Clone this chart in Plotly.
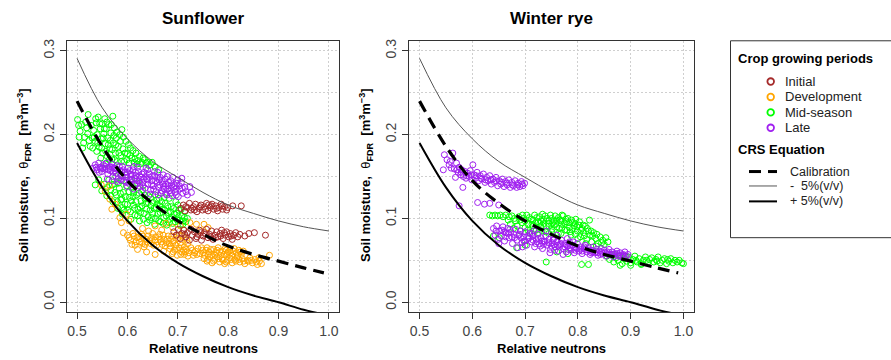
import plotly.graph_objects as go

W, H = 891, 360

# ---------------- data ----------------
N_CURVE = [0.50, 0.55, 0.60, 0.65, 0.70, 0.75, 0.80, 0.85, 0.90, 0.95, 1.00]
N_CAL = [0.50, 0.55, 0.60, 0.65, 0.70, 0.75, 0.80, 0.85, 0.90, 0.95, 0.99]
CAL = [0.240, 0.186, 0.145, 0.118, 0.097, 0.081, 0.067, 0.057, 0.049, 0.041, 0.035]
MINUS5 = [0.291, 0.232, 0.195, 0.168, 0.149, 0.131, 0.116, 0.106, 0.097, 0.090, 0.085]
PLUS5 = [0.190, 0.137, 0.097, 0.068, 0.047, 0.031, 0.018, 0.008, 0.000, -0.009, -0.016]

X_TICKS = [0.5, 0.6, 0.7, 0.8, 0.9, 1.0]
X_TICK_TEXT = ["0.5", "0.6", "0.7", "0.8", "0.9", "1.0"]
Y_TICKS = [0.0, 0.1, 0.2, 0.3]
Y_TICK_TEXT = ["0.0", "0.1", "0.2", "0.3"]

PANELS = ["Sunflower", "Winter rye"]
PERIODS = ["Initial", "Development", "Mid-season", "Late"]
PERIOD_COLORS = ["#A52A2A", "#FFA500", "#00FF00", "#A020F0"]

SF_INITIAL = [
    (0.706,0.112),(0.711,0.116),(0.714,0.109),(0.719,0.113),(0.723,0.118),(0.726,0.110),(0.731,0.114),
    (0.735,0.117),(0.738,0.108),(0.742,0.112),(0.746,0.116),(0.749,0.110),(0.753,0.114),(0.757,0.118),
    (0.760,0.109),(0.764,0.113),(0.768,0.117),(0.771,0.111),(0.775,0.115),(0.779,0.109),(0.782,0.113),
    (0.786,0.117),(0.789,0.111),(0.793,0.114),(0.716,0.114),(0.729,0.112),(0.744,0.114),(0.755,0.111),
    (0.766,0.115),(0.777,0.112),(0.788,0.115),(0.733,0.110),(0.761,0.116),(0.797,0.110),(0.799,0.113),
    (0.809,0.115),(0.826,0.115),
    (0.692,0.084),(0.697,0.080),(0.701,0.087),(0.705,0.076),(0.708,0.082),(0.712,0.086),(0.716,0.078),
    (0.719,0.083),(0.723,0.074),(0.726,0.087),(0.729,0.080),(0.733,0.084),(0.736,0.076),(0.740,0.081),
    (0.743,0.086),(0.747,0.074),(0.750,0.079),(0.753,0.083),(0.757,0.087),(0.760,0.077),(0.763,0.081),
    (0.767,0.085),(0.770,0.075),(0.773,0.080),(0.777,0.084),(0.780,0.078),(0.784,0.082),(0.787,0.086),
    (0.790,0.076),(0.794,0.080),(0.797,0.084),(0.801,0.078),(0.804,0.082),(0.808,0.075),(0.811,0.080),
    (0.815,0.083),(0.819,0.078),(0.823,0.081),(0.714,0.081),(0.738,0.078),(0.755,0.081),(0.775,0.077),
    (0.792,0.083),(0.806,0.079),(0.745,0.083),(0.765,0.078),(0.785,0.079),(0.833,0.079),(0.841,0.082),
    (0.852,0.083),(0.874,0.080),
]

SF_DEVELOPMENT = [
    (0.548,0.140),(0.556,0.132),(0.565,0.139),(0.565,0.123),(0.569,0.111),(0.576,0.117),(0.585,0.101),
    (0.598,0.105),(0.603,0.097),(0.592,0.083),(0.588,0.095),
    (0.600,0.080),(0.606,0.074),(0.611,0.082),(0.615,0.068),(0.619,0.077),(0.624,0.072),(0.628,0.081),
    (0.633,0.066),(0.637,0.075),(0.641,0.079),(0.646,0.070),(0.650,0.082),(0.654,0.074),(0.658,0.068),
    (0.662,0.078),(0.667,0.072),(0.671,0.080),(0.675,0.067),(0.679,0.075),(0.683,0.070),(0.688,0.079),
    (0.692,0.073),(0.696,0.068),(0.700,0.076),(0.705,0.071),(0.709,0.079),(0.713,0.066),(0.718,0.074),
    (0.622,0.078),(0.644,0.074),(0.665,0.075),(0.686,0.075),(0.703,0.080),(0.630,0.070),(0.656,0.078),
    (0.677,0.071),
    (0.603,0.077),(0.609,0.069),(0.613,0.079),(0.617,0.072),(0.626,0.076),(0.631,0.079),(0.635,0.069),
    (0.639,0.072),(0.648,0.077),(0.652,0.068),(0.660,0.072),(0.664,0.081),(0.669,0.069),(0.673,0.075),
    (0.681,0.079),(0.685,0.067),(0.690,0.071),(0.698,0.080),(0.707,0.068),(0.715,0.077),(0.720,0.070),
    (0.630,0.088),(0.642,0.085),(0.655,0.091),(0.668,0.086),(0.676,0.094),(0.690,0.089),(0.705,0.091),
    (0.712,0.086),(0.724,0.095),(0.737,0.093),(0.745,0.085),(0.752,0.093),(0.760,0.089),
    (0.620,0.063),(0.638,0.060),(0.655,0.057),(0.672,0.061),
    (0.684,0.064),(0.689,0.058),(0.694,0.062),(0.699,0.056),(0.703,0.065),(0.708,0.060),(0.713,0.057),
    (0.717,0.063),(0.722,0.059),(0.726,0.065),(0.731,0.056),(0.735,0.061),(0.740,0.064),(0.744,0.058),
    (0.749,0.062),(0.753,0.056),(0.758,0.065),(0.762,0.060),(0.767,0.057),(0.771,0.063),(0.776,0.059),
    (0.780,0.065),(0.785,0.056),(0.789,0.061),(0.794,0.064),(0.798,0.058),(0.803,0.062),(0.807,0.056),
    (0.812,0.064),(0.816,0.059),(0.821,0.062),(0.826,0.057),(0.830,0.061),(0.711,0.062),(0.733,0.059),
    (0.756,0.062),(0.778,0.062),(0.800,0.060),
    (0.691,0.060),(0.697,0.064),(0.706,0.057),(0.715,0.060),(0.720,0.055),(0.729,0.062),(0.738,0.057),
    (0.747,0.065),(0.751,0.059),(0.760,0.057),(0.765,0.063),(0.774,0.056),(0.783,0.060),(0.792,0.057),
    (0.796,0.062),(0.805,0.059),(0.810,0.061),(0.819,0.056),(0.824,0.060),
    (0.752,0.052),(0.758,0.049),(0.763,0.054),(0.768,0.047),(0.773,0.051),(0.778,0.054),(0.783,0.048),
    (0.788,0.052),(0.793,0.046),(0.798,0.050),(0.803,0.053),(0.808,0.047),(0.813,0.051),(0.818,0.054),
    (0.823,0.048),(0.828,0.052),(0.833,0.046),(0.838,0.050),(0.843,0.053),(0.848,0.047),(0.853,0.051),
    (0.858,0.045),(0.862,0.049),(0.866,0.046),(0.790,0.050),(0.815,0.049),(0.840,0.049),(0.882,0.056),
    (0.760,0.051),(0.771,0.049),(0.781,0.052),(0.796,0.048),(0.806,0.051),(0.821,0.051),(0.831,0.049),
    (0.846,0.050),(0.856,0.048),(0.861,0.053),
]

SF_MID = [
    (0.501,0.218),(0.503,0.211),(0.506,0.204),(0.511,0.184),(0.515,0.197),(0.519,0.208),(0.522,0.224),
    (0.526,0.186),(0.530,0.196),(0.533,0.205),(0.536,0.192),(0.538,0.214),(0.540,0.200),(0.542,0.221),
    (0.544,0.185),(0.546,0.207),(0.548,0.195),(0.550,0.213),(0.551,0.178),(0.553,0.201),(0.555,0.219),
    (0.556,0.189),(0.558,0.207),(0.560,0.174),(0.561,0.196),(0.563,0.212),(0.565,0.183),(0.567,0.202),
    (0.569,0.171),(0.571,0.222),(0.572,0.190),(0.574,0.208),(0.576,0.178),(0.578,0.196),(0.580,0.168),
    (0.582,0.186),(0.585,0.200),(0.587,0.175),(0.589,0.206),(0.591,0.183),(0.594,0.168),(0.597,0.192),
    (0.600,0.177),(0.603,0.166),(0.606,0.184),(0.609,0.172),(0.613,0.167),(0.617,0.178),(0.621,0.169),
    (0.626,0.165),(0.631,0.172),(0.637,0.166),(0.643,0.163),(0.649,0.167),(0.655,0.161),(0.662,0.158),
    (0.547,0.172),(0.539,0.180),(0.557,0.165),
    (0.504,0.197),(0.509,0.212),(0.513,0.190),(0.517,0.215),(0.521,0.201),(0.524,0.193),(0.528,0.211),
    (0.531,0.184),(0.534,0.197),(0.537,0.219),(0.541,0.190),(0.545,0.213),(0.549,0.184),(0.552,0.196),
    (0.554,0.207),(0.557,0.180),(0.559,0.215),(0.562,0.188),(0.564,0.170),(0.566,0.193),(0.568,0.212),
    (0.570,0.182),(0.573,0.199),(0.575,0.170),(0.577,0.188),(0.579,0.203),(0.583,0.178),(0.586,0.192),
    (0.588,0.168),(0.592,0.197),(0.595,0.178),(0.599,0.170),(0.602,0.188),(0.605,0.175),(0.611,0.181),
    (0.615,0.171),(0.619,0.165),(0.624,0.174),(0.629,0.167),(0.634,0.170),(0.640,0.167),(0.646,0.164),
    (0.536,0.140),(0.543,0.146),(0.549,0.133),(0.554,0.141),(0.559,0.127),(0.563,0.146),(0.567,0.134),
    (0.571,0.120),(0.574,0.141),(0.578,0.128),(0.581,0.112),(0.584,0.136),(0.587,0.122),(0.590,0.105),
    (0.592,0.131),(0.595,0.117),(0.598,0.139),(0.601,0.110),(0.604,0.125),(0.607,0.099),(0.609,0.136),
    (0.612,0.116),(0.615,0.104),(0.618,0.128),(0.621,0.111),(0.624,0.097),(0.627,0.121),(0.630,0.134),
    (0.633,0.106),(0.636,0.118),(0.639,0.095),(0.642,0.127),(0.645,0.110),(0.648,0.101),(0.651,0.119),
    (0.654,0.093),(0.657,0.113),(0.660,0.105),(0.663,0.124),(0.666,0.096),(0.669,0.111),(0.672,0.101),
    (0.675,0.118),(0.678,0.092),(0.681,0.107),(0.684,0.099),(0.687,0.114),(0.690,0.094),(0.693,0.105),
    (0.696,0.120),(0.699,0.098),(0.702,0.110),(0.705,0.092),(0.708,0.103),(0.711,0.097),(0.714,0.108),
    (0.597,0.152),(0.606,0.146),(0.620,0.142),(0.577,0.150),(0.588,0.145),(0.612,0.131),(0.634,0.128),
    (0.655,0.128),(0.589,0.113),(0.625,0.113),(0.641,0.102),(0.664,0.115),(0.683,0.124),(0.700,0.116),
    (0.719,0.100),
    (0.560,0.137),(0.566,0.127),(0.570,0.140),(0.575,0.131),(0.580,0.120),(0.582,0.142),(0.586,0.130),
    (0.589,0.123),(0.593,0.110),(0.596,0.126),(0.600,0.117),(0.603,0.132),(0.606,0.108),(0.608,0.121),
    (0.611,0.126),(0.614,0.112),(0.617,0.120),(0.620,0.103),(0.623,0.130),(0.626,0.107),(0.629,0.115),
    (0.632,0.099),(0.635,0.123),(0.638,0.111),(0.641,0.119),(0.644,0.098),(0.647,0.115),(0.650,0.106),
    (0.653,0.112),(0.656,0.100),(0.659,0.117),(0.662,0.097),(0.665,0.107),(0.668,0.120),(0.671,0.094),
    (0.674,0.110),(0.677,0.103),(0.680,0.115),(0.683,0.095),(0.686,0.108),(0.689,0.101),(0.692,0.112),
    (0.695,0.096),(0.698,0.106),(0.701,0.102),(0.704,0.098),(0.707,0.111),(0.710,0.093),(0.713,0.101),
    (0.716,0.096),(0.658,0.122),(0.646,0.125),(0.673,0.125),
]

SF_LATE = [
    (0.532,0.160),(0.536,0.164),(0.540,0.158),(0.543,0.166),(0.546,0.161),(0.549,0.156),(0.552,0.164),
    (0.555,0.159),(0.558,0.166),(0.561,0.153),(0.563,0.161),(0.566,0.157),(0.569,0.165),(0.571,0.150),
    (0.574,0.160),(0.577,0.154),(0.579,0.163),(0.582,0.147),(0.585,0.157),(0.587,0.151),(0.590,0.162),
    (0.593,0.145),(0.595,0.155),(0.598,0.149),(0.601,0.160),(0.603,0.142),(0.606,0.153),(0.609,0.147),
    (0.611,0.158),(0.614,0.140),(0.617,0.151),(0.619,0.145),(0.622,0.156),(0.625,0.138),(0.627,0.149),
    (0.630,0.143),(0.633,0.155),(0.635,0.136),(0.638,0.147),(0.641,0.141),(0.643,0.153),(0.646,0.134),
    (0.649,0.145),(0.651,0.139),(0.654,0.151),(0.657,0.132),(0.659,0.143),(0.662,0.137),(0.665,0.149),
    (0.667,0.130),(0.670,0.141),(0.673,0.135),(0.675,0.147),(0.678,0.128),(0.681,0.139),(0.683,0.133),
    (0.686,0.145),(0.689,0.127),(0.692,0.137),(0.695,0.131),(0.698,0.142),(0.701,0.126),(0.704,0.135),
    (0.707,0.143),(0.710,0.130),(0.714,0.137),(0.719,0.128),(0.727,0.131),
    (0.551,0.160),(0.565,0.162),(0.575,0.157),(0.588,0.156),(0.597,0.152),(0.607,0.150),(0.615,0.148),
    (0.624,0.151),(0.632,0.147),(0.640,0.146),(0.648,0.140),(0.656,0.145),(0.664,0.140),(0.672,0.138),
    (0.680,0.135),(0.688,0.140),(0.696,0.135),(0.620,0.161),(0.640,0.158),(0.660,0.155),(0.580,0.144),
    (0.600,0.138),(0.612,0.135),(0.628,0.132),(0.645,0.129),(0.690,0.149),(0.700,0.146),(0.544,0.155),
    (0.560,0.147),
    (0.538,0.161),(0.547,0.159),(0.556,0.162),(0.562,0.158),(0.570,0.161),(0.578,0.159),(0.584,0.162),
    (0.592,0.158),(0.599,0.155),(0.604,0.157),(0.610,0.152),(0.616,0.155),(0.623,0.145),(0.629,0.153),
    (0.636,0.150),(0.644,0.149),(0.650,0.151),(0.658,0.149),(0.663,0.146),(0.669,0.144),(0.676,0.141),
    (0.682,0.143),(0.687,0.136),(0.694,0.139),(0.703,0.139),(0.709,0.136),(0.716,0.132),(0.590,0.150),
    (0.605,0.145),(0.618,0.141),(0.631,0.139),(0.652,0.135),(0.668,0.133),(0.685,0.130),(0.697,0.128),
    (0.572,0.155),(0.586,0.146),(0.613,0.162),(0.637,0.160),(0.654,0.156),(0.671,0.152),(0.679,0.150),
    (0.708,0.148),(0.724,0.138),(0.570,0.145),(0.597,0.143),(0.625,0.142),(0.661,0.128),(0.676,0.130),
]

WR_MID = [
    (0.633,0.104),(0.638,0.103),(0.643,0.104),(0.648,0.103),(0.653,0.104),(0.658,0.102),(0.663,0.104),
    (0.668,0.098),(0.672,0.093),(0.675,0.103),(0.678,0.088),(0.682,0.097),(0.685,0.091),(0.688,0.102),
    (0.691,0.085),(0.694,0.095),(0.697,0.100),(0.700,0.089),(0.703,0.104),(0.706,0.093),(0.709,0.083),
    (0.712,0.099),(0.715,0.091),(0.718,0.104),(0.721,0.086),(0.724,0.096),(0.727,0.102),(0.730,0.089),
    (0.733,0.105),(0.736,0.094),(0.739,0.084),(0.742,0.100),(0.745,0.091),(0.748,0.104),(0.751,0.087),
    (0.754,0.097),(0.757,0.103),(0.760,0.090),(0.763,0.082),(0.766,0.098),(0.769,0.093),(0.772,0.103),
    (0.775,0.086),(0.778,0.096),(0.781,0.100),(0.784,0.089),(0.787,0.080),(0.790,0.095),(0.793,0.091),
    (0.796,0.099),(0.799,0.085),(0.802,0.092),(0.805,0.078),(0.808,0.088),(0.811,0.083),(0.814,0.091),
    (0.817,0.075),(0.820,0.085),(0.823,0.080),(0.826,0.072),(0.830,0.083),(0.834,0.076),(0.838,0.070),
    (0.842,0.078),(0.847,0.074),(0.853,0.077),(0.857,0.072),
    (0.700,0.097),(0.715,0.098),(0.730,0.097),(0.745,0.097),(0.760,0.098),(0.775,0.094),(0.790,0.088),
    (0.705,0.086),(0.725,0.083),(0.745,0.082),(0.765,0.088),(0.785,0.084),(0.740,0.091),(0.755,0.092),
    (0.770,0.089),(0.800,0.076),(0.815,0.070),(0.835,0.067),(0.822,0.098),
    (0.670,0.102),(0.680,0.100),(0.690,0.098),(0.695,0.104),(0.708,0.101),(0.713,0.093),(0.720,0.095),
    (0.722,0.101),(0.728,0.094),(0.735,0.099),(0.738,0.103),(0.744,0.094),(0.750,0.100),(0.752,0.095),
    (0.758,0.094),(0.763,0.101),(0.768,0.097),(0.770,0.104),(0.777,0.099),(0.783,0.095),(0.788,0.098),
    (0.795,0.094),(0.798,0.090),(0.803,0.096),(0.806,0.086),(0.810,0.092),(0.812,0.079),(0.818,0.088),
    (0.825,0.085),(0.828,0.079),(0.836,0.081),(0.845,0.071),(0.850,0.069),(0.732,0.085),(0.750,0.084),
    (0.768,0.082),(0.779,0.086),(0.795,0.081),
    (0.640,0.079),(0.651,0.077),(0.684,0.065),(0.740,0.048),(0.807,0.045),(0.820,0.045),(0.760,0.060),
    (0.700,0.068),(0.781,0.058),
    (0.855,0.055),(0.860,0.051),(0.864,0.056),(0.868,0.048),(0.872,0.053),(0.876,0.050),(0.880,0.055),
    (0.884,0.046),(0.888,0.052),(0.892,0.049),(0.896,0.054),(0.900,0.047),(0.904,0.051),(0.908,0.055),
    (0.912,0.048),(0.916,0.052),(0.920,0.046),(0.924,0.050),(0.928,0.054),(0.932,0.047),(0.936,0.051),
    (0.940,0.053),(0.944,0.048),(0.948,0.051),(0.952,0.054),(0.956,0.047),(0.960,0.050),(0.964,0.052),
    (0.968,0.046),(0.972,0.049),(0.976,0.052),(0.980,0.047),(0.984,0.050),(0.988,0.048),(0.992,0.050),
    (0.997,0.047),(1.000,0.046),(0.870,0.057),(0.890,0.055),(0.910,0.050),(0.930,0.050),(0.950,0.049),
    (0.970,0.051),(0.880,0.044),(0.900,0.044),(0.920,0.045),
]

WR_LATE = [
    (0.545,0.158),(0.547,0.176),(0.552,0.170),(0.556,0.164),(0.560,0.160),(0.563,0.178),(0.566,0.159),
    (0.568,0.149),(0.570,0.166),(0.573,0.155),(0.575,0.161),(0.578,0.152),(0.580,0.158),(0.583,0.150),
    (0.586,0.156),(0.588,0.148),(0.591,0.154),(0.594,0.150),(0.596,0.157),(0.599,0.146),(0.601,0.164),
    (0.603,0.152),(0.606,0.148),(0.609,0.155),(0.612,0.145),(0.615,0.151),(0.618,0.147),(0.621,0.153),
    (0.624,0.143),(0.627,0.149),(0.630,0.145),(0.633,0.151),(0.636,0.141),(0.639,0.147),(0.642,0.143),
    (0.645,0.149),(0.648,0.139),(0.651,0.145),(0.654,0.141),(0.657,0.147),(0.660,0.138),(0.663,0.144),
    (0.666,0.140),(0.669,0.146),(0.672,0.137),(0.675,0.143),(0.678,0.139),(0.681,0.145),(0.684,0.137),
    (0.687,0.142),(0.690,0.138),(0.693,0.144),(0.696,0.139),(0.699,0.142),(0.582,0.137),(0.575,0.115),
    (0.610,0.119),(0.623,0.117),(0.650,0.116),(0.633,0.118),
    (0.558,0.168),(0.571,0.158),(0.579,0.155),(0.589,0.151),(0.598,0.152),(0.607,0.151),(0.616,0.148),
    (0.625,0.146),(0.635,0.146),(0.644,0.145),(0.656,0.143),(0.665,0.142),(0.676,0.140),(0.686,0.140),
    (0.694,0.141),
    (0.640,0.088),(0.643,0.080),(0.646,0.091),(0.649,0.075),(0.652,0.085),(0.655,0.079),(0.658,0.090),
    (0.661,0.073),(0.664,0.083),(0.667,0.088),(0.670,0.077),(0.673,0.084),(0.676,0.070),(0.679,0.081),
    (0.682,0.087),(0.685,0.074),(0.688,0.080),(0.691,0.085),(0.694,0.071),(0.697,0.078),(0.700,0.084),
    (0.703,0.068),(0.706,0.076),(0.709,0.082),(0.712,0.072),(0.715,0.079),(0.718,0.066),(0.721,0.075),
    (0.724,0.081),(0.727,0.070),(0.730,0.077),(0.733,0.064),(0.736,0.073),(0.739,0.079),(0.742,0.068),
    (0.745,0.075),(0.748,0.063),(0.751,0.071),(0.754,0.076),(0.757,0.066),(0.760,0.072),(0.763,0.061),
    (0.766,0.069),(0.769,0.074),(0.772,0.064),(0.775,0.070),(0.778,0.060),(0.781,0.067),(0.784,0.072),
    (0.787,0.062),(0.790,0.068),(0.793,0.059),(0.796,0.065),(0.799,0.070),(0.802,0.061),(0.805,0.066),
    (0.808,0.058),(0.811,0.064),(0.814,0.068),(0.817,0.060),(0.820,0.065),(0.823,0.057),(0.826,0.062),
    (0.829,0.066),(0.832,0.059),(0.835,0.063),(0.838,0.056),(0.841,0.061),(0.844,0.064),(0.847,0.058),
    (0.850,0.062),(0.853,0.055),(0.856,0.060),(0.859,0.063),(0.862,0.057),(0.865,0.060),(0.868,0.054),
    (0.871,0.058),(0.874,0.061),(0.877,0.056),(0.880,0.059),(0.883,0.054),(0.886,0.057),(0.889,0.060),
    (0.892,0.055),(0.895,0.057),
    (0.660,0.084),(0.675,0.078),(0.690,0.081),(0.705,0.079),(0.715,0.074),(0.725,0.076),(0.735,0.069),
    (0.745,0.071),(0.755,0.069),(0.765,0.066),(0.775,0.066),(0.785,0.065),(0.795,0.062),(0.805,0.063),
    (0.815,0.063),(0.825,0.059),(0.835,0.060),(0.845,0.060),(0.855,0.058),(0.865,0.057),(0.875,0.058),
    (0.885,0.056),(0.700,0.073),(0.720,0.070),(0.740,0.085),(0.760,0.080),(0.780,0.076),(0.686,0.065),
    (0.695,0.066),(0.747,0.059),(0.772,0.057),
    (0.645,0.085),(0.656,0.086),(0.668,0.082),(0.680,0.077),(0.692,0.077),(0.698,0.073),(0.708,0.077),
    (0.713,0.082),(0.723,0.072),(0.732,0.073),(0.738,0.072),(0.750,0.067),(0.753,0.074),(0.762,0.068),
    (0.768,0.070),(0.778,0.068),(0.782,0.063),(0.792,0.066),(0.798,0.064),(0.808,0.061),(0.812,0.066),
    (0.822,0.062),(0.828,0.060),(0.838,0.059),(0.843,0.057),(0.852,0.059),(0.858,0.057),(0.868,0.057),
    (0.878,0.055),(0.888,0.055),(0.650,0.070),(0.663,0.078),(0.671,0.087),(0.717,0.085),(0.729,0.067),
    (0.756,0.062),(0.791,0.072),
]

# drawing order per panel: (period index, points)
SF_LAYERS = [(2, SF_MID), (1, SF_DEVELOPMENT), (3, SF_LATE), (0, SF_INITIAL)]
WR_LAYERS = [(2, WR_MID), (3, WR_LATE)]

FONT = "Arial, 'Liberation Sans', sans-serif"

def px(x):
    return x / W

def py(y):
    return 1 - y / H

fig = go.Figure()

for (layers, xa, ya) in [(SF_LAYERS, "x", "y"), (WR_LAYERS, "x2", "y2")]:
    for idx, pts in layers:
        fig.add_trace(go.Scatter(
            x=[p[0] for p in pts], y=[p[1] for p in pts], mode="markers",
            marker=dict(symbol="circle-open", size=6, color=PERIOD_COLORS[idx],
                        line=dict(width=1, color=PERIOD_COLORS[idx])),
            xaxis=xa, yaxis=ya, showlegend=False, hoverinfo="skip"))
    fig.add_trace(go.Scatter(x=N_CURVE, y=MINUS5, mode="lines", line=dict(color="#555555", width=1, shape="spline"),
                             xaxis=xa, yaxis=ya, showlegend=False))
    fig.add_trace(go.Scatter(x=N_CURVE, y=PLUS5, mode="lines", line=dict(color="#000000", width=2, shape="spline"),
                             xaxis=xa, yaxis=ya, showlegend=False))
    fig.add_trace(go.Scatter(x=N_CAL, y=CAL, mode="lines",
                             line=dict(color="#000000", width=3.2, dash="12px,7px", shape="spline"),
                             xaxis=xa, yaxis=ya, showlegend=False))

# axes
x_domains = [[67 / W, 339 / W], [409 / W, 694 / W]]
y_domain = [1 - 312 / H, 1 - 39 / H]
GRID_COLOR = "#cfcfcf"
grid = dict(showgrid=True, gridcolor=GRID_COLOR, gridwidth=1, griddash="2px,2px")
for i, dom in enumerate(x_domains):
    sfx = "" if i == 0 else str(i + 1)
    fig.update_layout(**{
        "xaxis" + sfx: dict(domain=dom, range=[0.48, 1.02], tickmode="array", tickvals=X_TICKS,
                            ticktext=X_TICK_TEXT, ticks="outside", ticklen=6, tickcolor="#333",
                            showline=True, mirror=True, linecolor="#333", linewidth=1, zeroline=False,
                            anchor="y" + sfx, tickfont=dict(family=FONT, size=14, color="#444"), **grid),
        "yaxis" + sfx: dict(domain=y_domain, range=[-0.012, 0.312], tickmode="array", tickvals=Y_TICKS,
                            ticktext=Y_TICK_TEXT, ticks="outside", ticklen=6, tickcolor="#333",
                            tickangle=-90, showline=True, mirror=True, linecolor="#333", linewidth=1,
                            zeroline=False, anchor="x" + sfx,
                            tickfont=dict(family=FONT, size=14, color="#444"),
                            minor=dict(dtick=0.05, tick0=0, ticks="", showgrid=True, gridcolor=GRID_COLOR,
                                       griddash="2px,2px", gridwidth=1),
                            **grid),
    })

ann = []
centers = [(67 + 339) / 2, (409 + 694) / 2]
ytitle_x = [24, 366]
for i, name in enumerate(PANELS):
    ann.append(dict(x=px(centers[i]), y=py(17), xref="paper", yref="paper", text="<b>%s</b>" % name,
                    showarrow=False, font=dict(family=FONT, size=17, color="#000"), xanchor="center",
                    yanchor="middle"))
    ann.append(dict(x=px(centers[i]), y=py(348), xref="paper", yref="paper", text="<b>Relative neutrons</b>",
                    showarrow=False, font=dict(family=FONT, size=13, color="#000"), xanchor="center",
                    yanchor="middle"))
    ann.append(dict(x=px(ytitle_x[i]), y=py(174), xref="paper", yref="paper", textangle=-90,
                    text="<b>Soil moisture,</b>  θ<sub><b>FDR</b></sub>  <b>[m<sup>3</sup>m<sup>−3</sup>]</b>",
                    showarrow=False, font=dict(family=FONT, size=13, color="#000"), xanchor="center",
                    yanchor="middle"))

# legend (drawn manually to match the R layout)
shapes = [dict(type="rect", xref="paper", yref="paper", x0=px(730.5), x1=px(905), y0=py(237), y1=py(39),
               line=dict(color="#333", width=1), fillcolor="rgba(0,0,0,0)")]
ann.append(dict(x=px(736), y=py(57), xref="paper", yref="paper", text="<b>Crop growing periods</b>",
                showarrow=False, font=dict(family=FONT, size=13, color="#000"), xanchor="left", yanchor="middle"))
leg_y = [80, 95.5, 111, 126.5]
for i, lab in enumerate(PERIODS):
    r = 3.3
    shapes.append(dict(type="circle", xref="paper", yref="paper", x0=px(770.7 - r), x1=px(770.7 + r),
                       y0=py(leg_y[i] + r), y1=py(leg_y[i] - r), line=dict(color=PERIOD_COLORS[i], width=1.8)))
    ann.append(dict(x=px(783), y=py(leg_y[i]), xref="paper", yref="paper", text=lab, showarrow=False,
                    font=dict(family=FONT, size=13, color="#222"), xanchor="left", yanchor="middle"))
ann.append(dict(x=px(736), y=py(148), xref="paper", yref="paper", text="<b>CRS Equation</b>",
                showarrow=False, font=dict(family=FONT, size=13, color="#000"), xanchor="left", yanchor="middle"))
shapes.append(dict(type="line", xref="paper", yref="paper", x0=px(749), x1=px(761), y0=py(170.5), y1=py(170.5),
                   line=dict(color="#000", width=3)))
shapes.append(dict(type="line", xref="paper", yref="paper", x0=px(768), x1=px(777), y0=py(170.5), y1=py(170.5),
                   line=dict(color="#000", width=3)))
shapes.append(dict(type="line", xref="paper", yref="paper", x0=px(749), x1=px(777), y0=py(185), y1=py(185),
                   line=dict(color="#555", width=1)))
shapes.append(dict(type="line", xref="paper", yref="paper", x0=px(749), x1=px(777), y0=py(200.5), y1=py(200.5),
                   line=dict(color="#000", width=2)))
for yy, lab in [(170.5, "Calibration"), (185.5, "-\u00a0 5%(v/v)"), (200.5, "+ 5%(v/v)")]:
    ann.append(dict(x=px(788), y=py(yy), xref="paper", yref="paper", text=lab, showarrow=False,
                    font=dict(family=FONT, size=12.5, color="#222"), xanchor="left", yanchor="middle"))

fig.update_layout(width=W, height=H, margin=dict(l=0, r=0, t=0, b=0), paper_bgcolor="white",
                  plot_bgcolor="white", showlegend=False, annotations=ann, shapes=shapes)

fig.write_html("out.html")
